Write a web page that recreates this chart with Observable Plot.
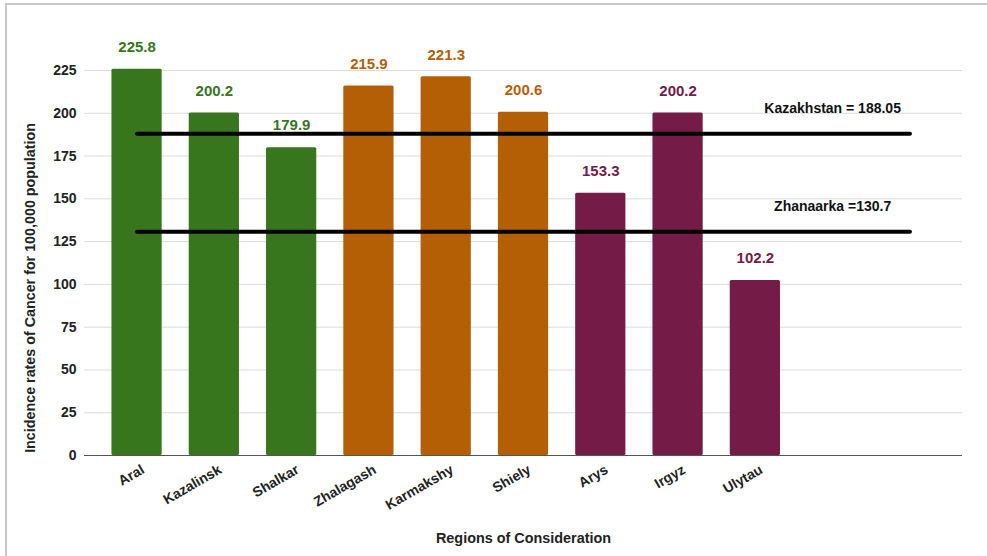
<!DOCTYPE html>
<html>
<head>
<meta charset="utf-8">
<script src="https://cdn.jsdelivr.net/npm/d3@7"></script>
<script src="https://cdn.jsdelivr.net/npm/@observablehq/plot@0.6"></script>
<style>
  body { margin: 0; background: #fff; font-family: "Liberation Sans", Arial, sans-serif; }
  #wrap { position: relative; width: 987px; height: 556px; overflow: hidden; }
  #frame { position: absolute; left: 5px; top: 3px; width: 1000px; height: 600px;
           border-left: 2px solid #c9c9c9; border-top: 2px solid #c9c9c9; pointer-events: none; }
  svg { display: block; }
</style>
</head>
<body>
<div id="wrap"><div id="frame"></div></div>
<script>
const regions = ["Aral", "Kazalinsk", "Shalkar", "Zhalagash", "Karmakshy", "Shiely", "Arys", "Irgyz", "Ulytau"];
const rates = [225.8, 200.2, 179.9, 215.9, 221.3, 200.6, 153.3, 200.2, 102.2];
const groups = ["g1", "g1", "g1", "g2", "g2", "g2", "g3", "g3", "g3"];
const groupNames = ["g1", "g2", "g3"];
const groupColors = ["#38761d", "#b45f06", "#741b47"];
const blankSlots = ["", " "];
const yTicks = [0, 25, 50, 75, 100, 125, 150, 175, 200, 225];
const refLabels = ["Kazakhstan = 188.05", "Zhanaarka =130.7"];
const refValues = [188.05, 130.7];
const xTitle = "Regions of Consideration";
const yTitle = "Incidence rates of Cancer for 100,000 population";

const bars = regions.map((r, i) => ({region: r, rate: rates[i], group: groups[i]}));
const refLines = refValues.flatMap((v, i) => [
  {x: regions[0], y: v, k: refLabels[i]},
  {x: blankSlots[1], y: v, k: refLabels[i]}
]);
const refText = refValues.map((v, i) => ({x: blankSlots[0], y: v, label: refLabels[i]}));

const chart = Plot.plot({
  width: 987,
  height: 556,
  marginLeft: 84,
  marginRight: 25,
  marginTop: 70,
  marginBottom: 101,
  style: {fontFamily: "'Liberation Sans', Arial, sans-serif", background: "transparent"},
  x: {type: "band", domain: [...regions, ...blankSlots], paddingInner: 0.35, paddingOuter: 0.355, round: false},
  y: {domain: [0, 225]},
  color: {domain: groupNames, range: groupColors},
  marks: [
    Plot.ruleY(yTicks.filter(d => d > 0), {stroke: "#dcdcdc", strokeWidth: 1}),
    Plot.barY(bars, {x: "region", y: "rate", fill: "group", rx: 1.5}),
    Plot.ruleY([0], {stroke: "#555", strokeWidth: 1.2}),
    Plot.text(bars, {x: "region", y: "rate", text: d => d.rate.toFixed(1), fill: "group",
      dy: -22, fontSize: 15, fontWeight: "bold"}),
    Plot.line(refLines, {x: "x", y: "y", z: "k", stroke: "#000", strokeWidth: 4}),
    Plot.text(refText, {x: "x", y: "y", text: "label", dy: -25, fontSize: 14, fontWeight: "bold", fill: "#111"}),
    Plot.axisY({ticks: yTicks, tickSize: 0, tickPadding: 8, fontSize: 14, fontWeight: "bold", label: null, fill: "#222"}),
    Plot.axisX({tickSize: 0, tickPadding: 10, tickRotate: -30, dx: 6, dy: 3, fontSize: 14, fontWeight: "bold",
      label: null, fill: "#222", tickFormat: d => regions.includes(d) ? d : ""}),
    Plot.text([xTitle], {frameAnchor: "bottom", dy: 87, fontSize: 14.4, fontWeight: "bold", fill: "#222"}),
    Plot.text([yTitle], {frameAnchor: "left", textAnchor: "middle", dx: -54, dy: 25, rotate: -90,
      fontSize: 14.3, fontWeight: "bold", fill: "#222"})
  ]
});
document.getElementById("wrap").prepend(chart);
</script>
</body>
</html>
